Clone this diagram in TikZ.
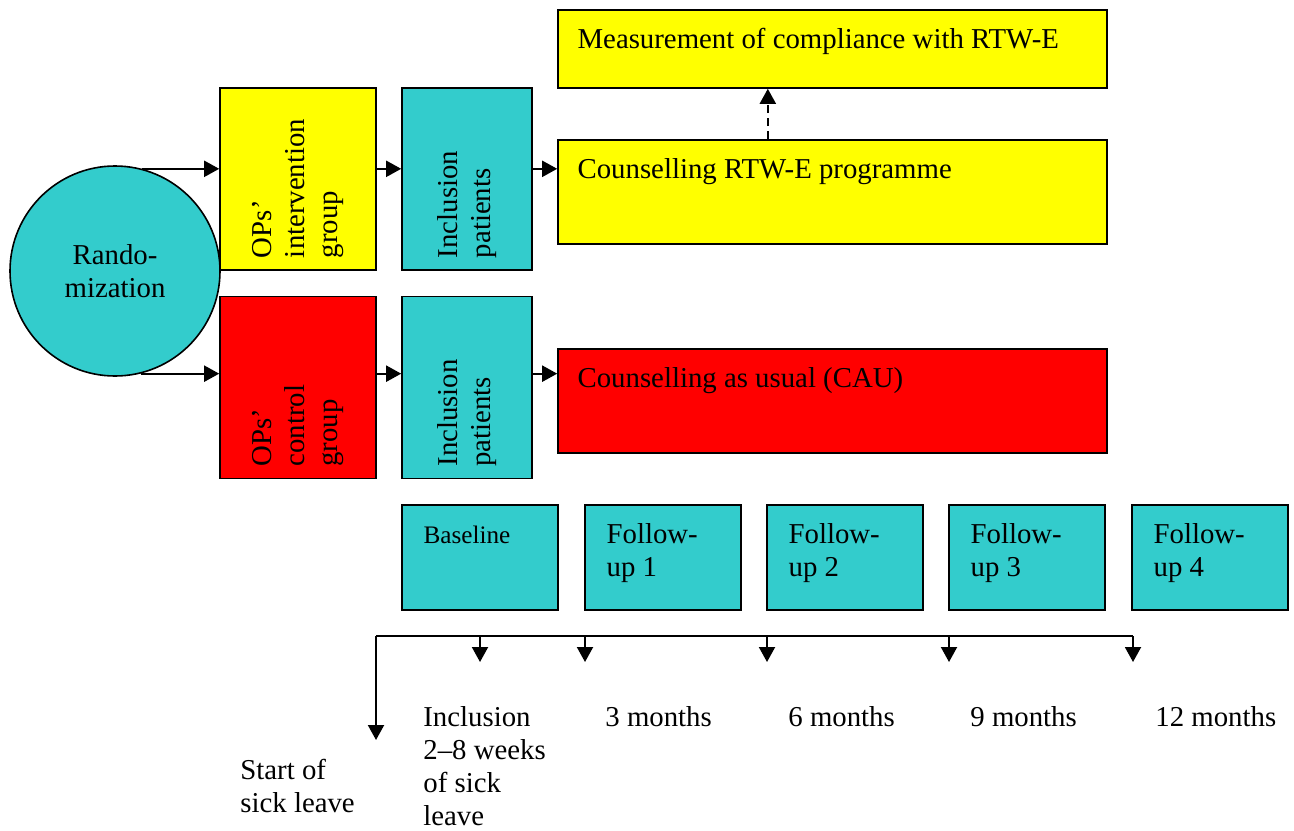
\documentclass[tikz,border=0pt]{standalone}
\usepackage{fontspec}
\setmainfont{Liberation Serif}
\usetikzlibrary{calc,positioning,arrows.meta}
\definecolor{myellow}{HTML}{FFFF00}
\definecolor{mred}{HTML}{FF0000}
\definecolor{mcyan}{HTML}{33CCCC}
\tikzstyle{l2}=[line width=0.8pt]
\tikzstyle{arr}=[line width=1pt, -{Triangle[length=7.5pt,width=8pt]}]
\tikzstyle{box}=[rectangle, draw=black, l2, inner sep=0pt]
\tikzstyle{group}=[box, rotate=90, minimum width=91pt, text width=79pt, inner xsep=6pt, align=left]
\tikzstyle{wide}=[box, minimum width=274.5pt]
\tikzstyle{fup}=[box, fill=mcyan, minimum width=78pt, minimum height=52.5pt]
\tikzstyle{intext}=[anchor=north west, inner sep=0pt, xshift=10pt, yshift=-9.5pt, align=left]
\tikzstyle{tick}=[anchor=north west, inner sep=0pt, align=left]

\begin{document}
\begin{tikzpicture}[x=0.5pt, y=-0.5pt, font=\fontsize{14.4}{16.5}\selectfont]
    \useasboundingbox (0,0) rectangle (1294,830);

    \node[circle, draw=black, l2, fill=mcyan, minimum size=105pt, align=center] (rand) at (115,271) {Rando-\\mization};

    % rotated boxes: north is the left side, south the right side
    \node[group, fill=myellow, minimum height=78pt] (opi) at (298,179) {OPs'\\intervention\\group};
    \node[group, fill=mred, minimum height=78pt] (opc) at (298,387.5) {OPs'\\control\\group};
    \node[group, fill=mcyan, minimum height=65pt] (inc1) at (467,179) {Inclusion\\patients};
    \node[group, fill=mcyan, minimum height=65pt] (inc2) at (467,387.5) {Inclusion\\patients};

    \node[wide, fill=myellow, minimum height=39pt, label={[intext]north west:Measurement of compliance with RTW-E}] (mea) at (832.5,49) {};
    \node[wide, fill=myellow, minimum height=52pt, label={[intext]north west:Counselling RTW-E programme}] (cou) at (832.5,192) {};
    \node[wide, fill=mred, minimum height=52pt, label={[intext]north west:Counselling as usual (CAU)}] (cau) at (832.5,401) {};

    \node[fup, label={[intext, xshift=1pt, yshift=-1pt, font=\fontsize{12.6}{15}\selectfont]north west:Baseline}] (base) at (480,557.5) {};
    \foreach \x/\n in {663/1, 845/2, 1027/3, 1210/4}{
            \node[fup, label={[intext, xshift=1pt]north west:Follow-\\up \n}] (fu\n) at (\x,557.5) {};
        }

    % upper and lower arms
    \coordinate (r1) at (rand.75);
    \coordinate (r2) at (rand.-76);
    \draw[arr] (r1) -- (r1 -| opi.north);
    \draw[arr] (opi.south |- r1) -- (inc1.north |- r1);
    \draw[arr] (inc1.south |- r1) -- (cou.west |- r1);
    \draw[arr] (r2) -- (r2 -| opc.north);
    \draw[arr] (opc.south |- r2) -- (inc2.north |- r2);
    \draw[arr] (inc2.south |- r2) -- (cau.west |- r2);
    \draw[arr, dash pattern=on 4pt off 2.5pt] ($(cou.north west)!0.3825!(cou.north east)$) -- ($(mea.south west)!0.3825!(mea.south east)$);

    % time line
    \coordinate (t0) at (376,636);
    \coordinate (s0) at (376,740);
    \foreach \x [count=\i] in {480,585,767,949,1133}{
            \coordinate (t\i) at (\x,636);
            \coordinate (d\i) at (\x,662);
            \draw[arr] (t\i) -- (d\i);
        }
    \draw[line width=1pt] (t0) -- (t5);
    \draw[arr] (t0) -- (s0);

    \node[tick] (lstart) at (240,759) {Start of\\sick leave};
    \node[tick] (lincl) at (423,706) {Inclusion\\2--8 weeks\\of sick\\leave};
    \node[tick] (l3) at (605,706) {3 months};
    \node[tick] (l6) at (788,706) {6 months};
    \node[tick] (l9) at (970,706) {9 months};
    \node[tick] (l12) at (1155,706) {12 months};

\end{tikzpicture}
\end{document}
